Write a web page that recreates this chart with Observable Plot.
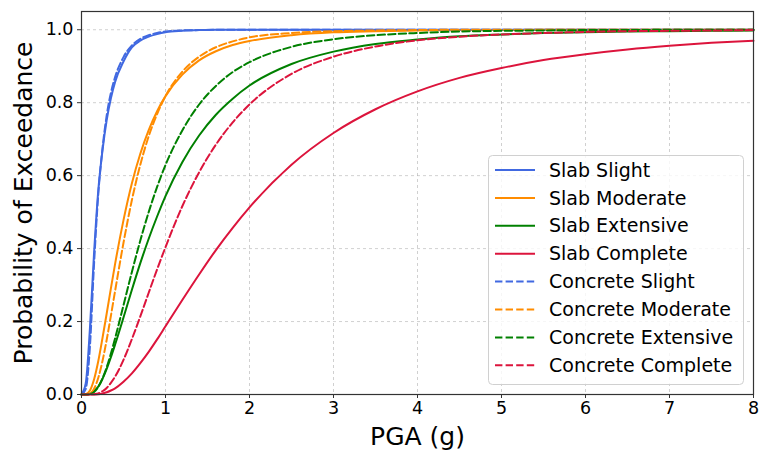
<!DOCTYPE html>
<html>
<head>
<meta charset="utf-8">
<script src="https://cdn.jsdelivr.net/npm/d3@7"></script>
<script src="https://cdn.jsdelivr.net/npm/@observablehq/plot@0.6"></script>
<style>
  html, body { margin: 0; padding: 0; background: #fff; }
  #chart { width: 760px; height: 454px; }
</style>
</head>
<body>
<div id="chart"></div>
<script>
// PGA sample points (g)
const pga = [0,0.05,0.1,0.15,0.2,0.25,0.3,0.35,0.4,0.5,0.6,0.7,0.8,0.9,1.0,1.2,1.4,1.6,1.8,2.0,2.5,3,3.5,4,4.5,5,5.5,6,6.5,7,7.5,8];

// Probability of exceedance
const slabSlight      = [0,0.03,0.18,0.39,0.56,0.669,0.752,0.812,0.857,0.913,0.952,0.97,0.981,0.988,0.993,0.997,0.999,1,1,1,1,1,1,1,1,1,1,1,1,1,1,1];
const slabModerate    = [0,0.001,0.011,0.042,0.092,0.155,0.222,0.291,0.358,0.478,0.579,0.66,0.725,0.777,0.818,0.877,0.916,0.941,0.958,0.969,0.985,0.993,0.996,0.998,0.999,0.999,1,1,1,1,1,1];
const slabExtensive   = [0,0,0.002,0.009,0.022,0.043,0.07,0.102,0.137,0.211,0.287,0.36,0.427,0.488,0.544,0.637,0.71,0.767,0.811,0.847,0.906,0.94,0.961,0.973,0.982,0.987,0.991,0.993,0.995,0.996,0.997,0.998];
const slabComplete    = [0,0,0,0,0.001,0.003,0.006,0.011,0.017,0.035,0.058,0.086,0.117,0.151,0.187,0.259,0.329,0.396,0.457,0.513,0.63,0.717,0.782,0.831,0.868,0.895,0.917,0.933,0.946,0.956,0.964,0.97];
const concSlight      = [0,0.015,0.13,0.36,0.55,0.675,0.765,0.827,0.87,0.925,0.957,0.975,0.985,0.991,0.995,0.998,0.999,1,1,1,1,1,1,1,1,1,1,1,1,1,1,1];
const concModerate    = [0,0,0.003,0.016,0.046,0.092,0.15,0.216,0.284,0.416,0.533,0.63,0.708,0.769,0.818,0.885,0.926,0.952,0.968,0.979,0.991,0.996,0.998,0.999,1,1,1,1,1,1,1,1];
const concExtensive   = [0,0,0.001,0.007,0.021,0.044,0.075,0.112,0.154,0.245,0.336,0.422,0.5,0.569,0.629,0.724,0.795,0.846,0.884,0.911,0.953,0.974,0.985,0.991,0.995,0.997,0.998,0.999,0.999,1,1,1];
const concComplete    = [0,0,0,0.001,0.003,0.009,0.018,0.032,0.049,0.095,0.152,0.214,0.279,0.343,0.404,0.516,0.609,0.685,0.746,0.795,0.879,0.926,0.954,0.971,0.981,0.987,0.991,0.994,0.996,0.997,0.998,0.999];

const seriesNames = ["Slab Slight","Slab Moderate","Slab Extensive","Slab Complete",
                     "Concrete Slight","Concrete Moderate","Concrete Extensive","Concrete Complete"];
const seriesValues = [slabSlight, slabModerate, slabExtensive, slabComplete,
                      concSlight, concModerate, concExtensive, concComplete];
const seriesColors = ["#4169E1","#FF8C00","#008000","#DC143C","#4169E1","#FF8C00","#008000","#DC143C"];
const seriesDashed = [false,false,false,false,true,true,true,true];

const xTicks = [0,1,2,3,4,5,6,7,8];
const yTicks = [0,0.2,0.4,0.6,0.8,1.0];
const xLabel = "PGA (g)";
const yLabel = "Probability of Exceedance";

const FONT = "DejaVu Sans";
const DASH = "7.4,3.2";

const lineMarks = seriesNames.map((name, i) => {
  const rows = pga.map((x, j) => ({series: name, x, y: seriesValues[i][j]}));
  return Plot.line(rows, {
    x: "x", y: "y",
    stroke: seriesColors[i],
    strokeWidth: 2,
    strokeDasharray: seriesDashed[i] ? DASH : null,
    curve: "monotone-x"
  });
});

const chart = Plot.plot({
  width: 760,
  height: 454,
  marginLeft: 81,
  marginRight: 7,
  marginTop: 11,
  marginBottom: 60,
  style: {fontFamily: FONT, fontSize: "17.5px", color: "#000", background: "#fff"},
  x: {domain: [0, 8]},
  y: {domain: [0, 1.05]},
  marks: [
    Plot.gridX(xTicks, {stroke: "#b0b0b0", strokeOpacity: 0.75, strokeDasharray: "3,3", strokeWidth: 0.8}),
    Plot.gridY(yTicks, {stroke: "#b0b0b0", strokeOpacity: 0.75, strokeDasharray: "3,3", strokeWidth: 0.8}),
    ...lineMarks,
    Plot.frame({stroke: "#333", strokeWidth: 1.2}),
    Plot.axisX(xTicks, {tickSize: 4, tickPadding: 3, fontSize: 17.5, label: null, stroke: "#333"}),
    Plot.axisY(yTicks, {tickSize: 4, tickPadding: 4, fontSize: 17.5, label: null, stroke: "#333",
                        tickFormat: d => d.toFixed(1)}),
    Plot.text([xLabel], {frameAnchor: "bottom", dy: 42, lineAnchor: "middle", textAnchor: "middle",
                         text: d => d, fontSize: 25, fill: "#000"}),
    Plot.text([yLabel], {frameAnchor: "left", dx: -58, rotate: -90, lineAnchor: "middle", textAnchor: "middle",
                         text: d => d, fontSize: 25, fill: "#000"})
  ]
});

document.getElementById("chart").appendChild(chart);

// Legend drawn inside the plot's SVG
const svg = d3.select(chart);
const lg = svg.append("g").attr("font-family", FONT).attr("font-size", 19).attr("text-anchor", "start");
lg.append("rect")
  .attr("x", 488.5).attr("y", 155.5).attr("width", 255).attr("height", 229)
  .attr("rx", 4).attr("fill", "#fff").attr("fill-opacity", 0.8)
  .attr("stroke", "#d0d0d0").attr("stroke-width", 1);
seriesNames.forEach((name, i) => {
  const cy = 170 + i * 27.9;
  lg.append("line")
    .attr("x1", 495).attr("x2", 535).attr("y1", cy).attr("y2", cy)
    .attr("stroke", seriesColors[i]).attr("stroke-width", 2)
    .attr("stroke-dasharray", seriesDashed[i] ? DASH : null);
  lg.append("text")
    .attr("x", 549).attr("y", cy).attr("dy", "0.35em")
    .attr("text-anchor", "start")
    .attr("fill", "#000").text(name);
});
</script>
</body>
</html>
